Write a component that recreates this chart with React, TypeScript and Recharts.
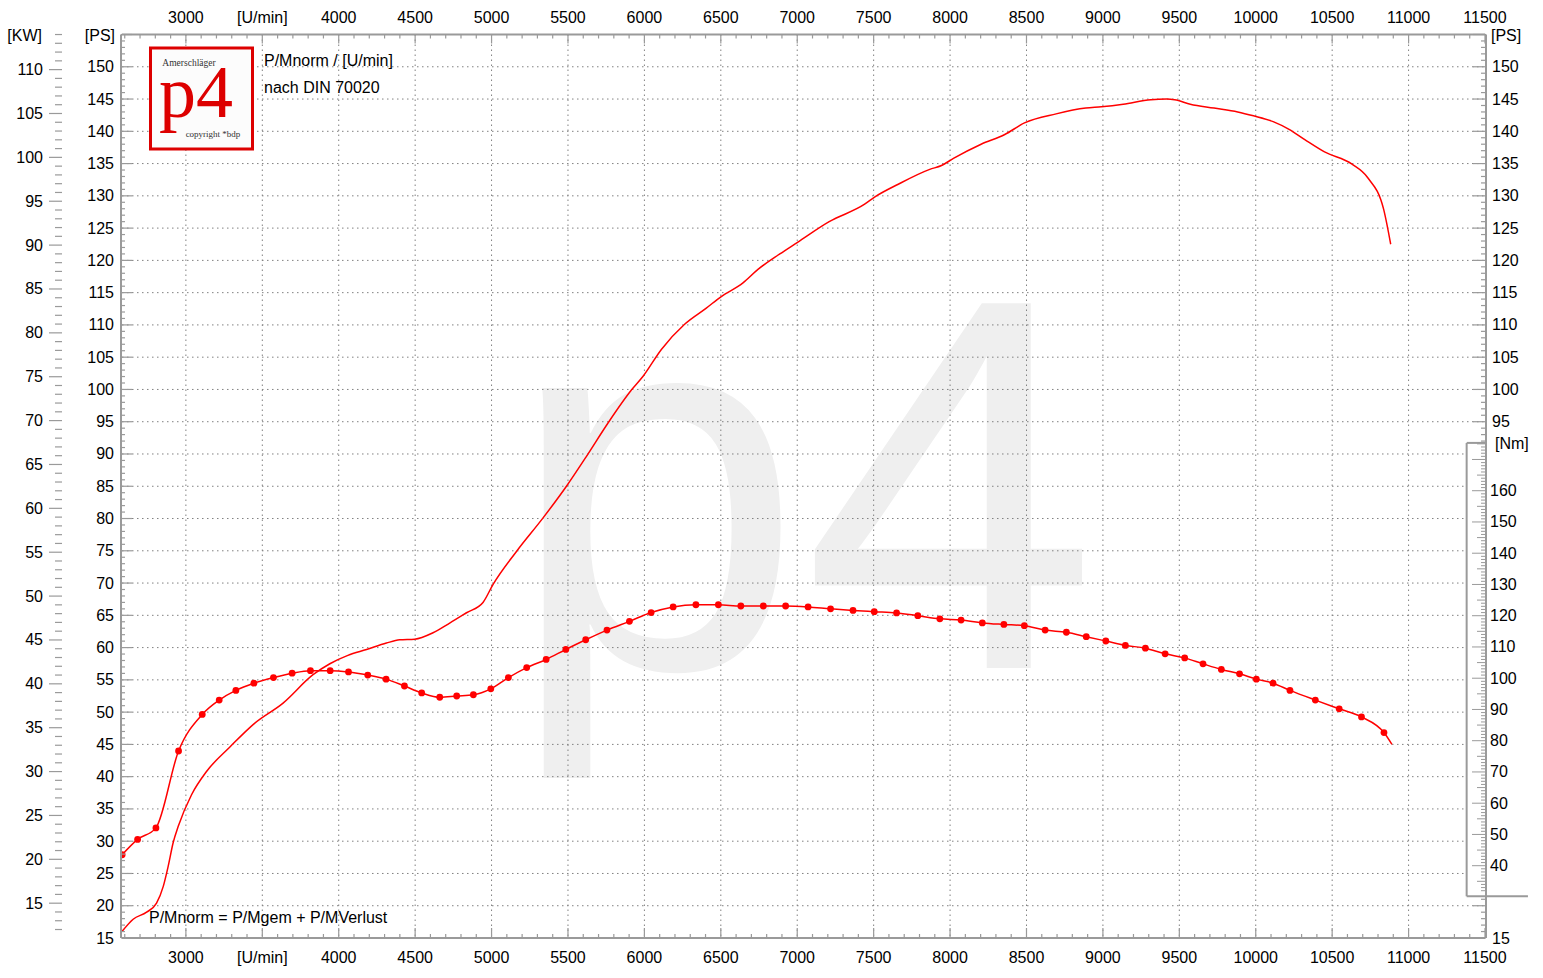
import React from 'react';
import {
  LineChart,
  Line,
  XAxis,
  YAxis,
  CartesianGrid,
  ReferenceArea,
  ReferenceLine,
} from 'recharts';

// Leistung P/Mnorm [PS] über Drehzahl [U/min]
const powerRpm = [
  2582, 2655, 2743, 2808, 2852, 2884, 2917, 2950, 3037, 3135, 3288, 3451, 3636, 3832, 3942, 4060,
  4182, 4312, 4399, 4497, 4617, 4726, 4836, 4944, 5010, 5163, 5337, 5490, 5620, 5762, 5915, 5990,
  6111, 6263, 6405, 6503, 6645, 6743, 6886, 7002, 7209, 7441, 7506, 7661, 7867, 7944, 8022, 8203,
  8358, 8487, 8694, 8888, 8990, 9133, 9314, 9417, 9469, 9572, 9727, 9882, 9985, 10114, 10218,
  10321, 10450, 10630, 10733, 10837, 10883,
];
const powerPs = [
  16.0, 17.9, 19.0, 20.4, 23.0, 26.1, 29.8, 32.3, 37.2, 40.8, 44.6, 48.3, 51.4, 55.8, 57.5, 58.8,
  59.7, 60.7, 61.2, 61.3, 62.3, 63.8, 65.4, 67.0, 69.8, 74.9, 80.1, 85.0, 89.6, 94.8, 99.9, 102.0,
  106.2, 110.1, 112.6, 114.4, 116.5, 118.6, 121.0, 122.8, 126.0, 128.7, 129.8, 131.8, 134.1, 134.7,
  135.8, 138.0, 139.5, 141.3, 142.7, 143.6, 143.8, 144.2, 144.9, 145.0, 144.9, 144.2, 143.6, 143.0,
  142.4, 141.5, 140.3, 138.7, 136.8, 134.9, 132.8, 127.9, 122.5,
];

// Drehmoment [Nm] über Drehzahl [U/min] (letzter Punkt ohne Messpunkt)
const torqueRpm = [
  2583, 2684, 2804, 2952, 3107, 3218, 3327, 3445, 3573, 3695, 3815, 3944, 4064, 4190, 4310, 4430,
  4543, 4661, 4772, 4881, 4995, 5110, 5230, 5357, 5486, 5616, 5755, 5902, 6044, 6188, 6337, 6484,
  6631, 6778, 6924, 7071, 7218, 7365, 7504, 7650, 7789, 7933, 8072, 8211, 8352, 8486, 8622, 8761,
  8891, 9019, 9147, 9278, 9407, 9535, 9655, 9775, 9894, 10004, 10113, 10224, 10390, 10546, 10692,
  10839, 10891,
];
const torqueNm = [
  43.5, 48.4, 52.1, 76.7, 88.4, 93.0, 96.1, 98.4, 100.2, 101.6, 102.4, 102.4, 102.0, 101.0, 99.7,
  97.5, 95.3, 93.9, 94.3, 94.7, 96.6, 100.2, 103.4, 106.0, 109.2, 112.3, 115.4, 118.2, 121.0, 122.8,
  123.5, 123.5, 123.1, 123.1, 123.1, 122.8, 122.2, 121.7, 121.3, 120.9, 120.0, 119.0, 118.6, 117.7,
  117.2, 116.8, 115.4, 114.7, 113.3, 111.9, 110.5, 109.6, 107.8, 106.5, 104.6, 102.8, 101.4, 99.7,
  98.4, 96.1, 93.0, 90.2, 87.6, 82.6, 78.8,
];

// Achsbeschriftungen
const rpmLabels = [3000, 3500, 4000, 4500, 5000, 5500, 6000, 6500, 7000, 7500, 8000, 8500, 9000, 9500, 10000, 10500, 11000, 11500];
const psLabels = [15, 20, 25, 30, 35, 40, 45, 50, 55, 60, 65, 70, 75, 80, 85, 90, 95, 100, 105, 110, 115, 120, 125, 130, 135, 140, 145, 150];
const psRightLabels = [15, 95, 100, 105, 110, 115, 120, 125, 130, 135, 140, 145, 150];
const kwLabels = [15, 20, 25, 30, 35, 40, 45, 50, 55, 60, 65, 70, 75, 80, 85, 90, 95, 100, 105, 110];
const nmLabels = [40, 50, 60, 70, 80, 90, 100, 110, 120, 130, 140, 150, 160];
const gridRpm = [3000, 3500, 4000, 4500, 5000, 5500, 6000, 6500, 7000, 7500, 8000, 8500, 9000, 9500, 10000, 10500, 11000];
const gridPs = psLabels.filter((v) => v > 15);

const range = (from: number, to: number, step = 1) => {
  const out: number[] = [];
  for (let v = from; v <= to; v += step) out.push(v);
  return out;
};
const rpmTicks = range(2600, 11500, 100);
const psTicks = range(15, 155);
const kwTicks = range(12, 114);
const nmTicks = range(32, 175);

const powerData = powerRpm.map((rpm, i) => ({ rpm, ps: powerPs[i] }));
const torqueData = torqueRpm.map((rpm, i) => ({ rpm, nm: torqueNm[i] }));

const RED = '#ff0000';
const AXIS = '#9a9a9a';
const FONT = 'Arial, "Liberation Sans", Helvetica, sans-serif';
const SERIF = '"Liberation Serif", "Times New Roman", serif';
const FS = 16;

const rpmText = (v: number) => (v === 3500 ? '[U/min]' : String(v));

const TopTick = ({ x, y, payload }: any) => {
  const v = payload.value;
  const major = v % 500 === 0;
  return (
    <g>
      <line x1={x} x2={x} y1={y} y2={y + (major ? 9 : 4)} stroke={AXIS} strokeWidth={1.2} />
      {rpmLabels.includes(v) && (
        <text x={x} y={y - 17} textAnchor="middle" dominantBaseline="central" fontSize={FS} fontFamily={FONT} fill="#000">
          {rpmText(v)}
        </text>
      )}
    </g>
  );
};

const BottomTick = ({ x, y, payload }: any) => {
  const v = payload.value;
  const major = v % 500 === 0;
  return (
    <g>
      <line x1={x} x2={x} y1={y} y2={y - (major ? 10 : 4)} stroke={AXIS} strokeWidth={1.2} />
      {rpmLabels.includes(v) && (
        <text x={x} y={y + 19.5} textAnchor="middle" dominantBaseline="central" fontSize={FS} fontFamily={FONT} fill="#000">
          {rpmText(v)}
        </text>
      )}
    </g>
  );
};

const PsLeftTick = ({ x, y, payload }: any) => {
  const v = payload.value;
  const major = v % 5 === 0;
  return (
    <g>
      <line x1={x} x2={x + (major ? 11 : 4)} y1={y} y2={y} stroke={AXIS} strokeWidth={1.2} />
      {psLabels.includes(v) && (
        <text x={x - 7} y={y} textAnchor="end" dominantBaseline="central" fontSize={FS} fontFamily={FONT} fill="#000">
          {v}
        </text>
      )}
    </g>
  );
};

// kW-Skala sitzt links außen, ohne Achslinie
const KwTick = ({ x, y, payload }: any) => {
  const v = payload.value;
  const major = v % 5 === 0;
  const end = x - 60;
  return (
    <g>
      <line x1={end - (major ? 13 : 7)} x2={end} y1={y} y2={y} stroke={AXIS} strokeWidth={1.2} />
      {kwLabels.includes(v) && (
        <text x={end - 19} y={y} textAnchor="end" dominantBaseline="central" fontSize={FS} fontFamily={FONT} fill="#000">
          {v}
        </text>
      )}
    </g>
  );
};

const PsRightTick = ({ x, y, payload }: any) => {
  const v = payload.value;
  if (v > 21 && v < 92) return <g />;
  const major = v % 5 === 0;
  return (
    <g>
      <line x1={x - (major ? 13 : 5)} x2={x} y1={y} y2={y} stroke={AXIS} strokeWidth={1.2} />
      {psRightLabels.includes(v) && (
        <text x={x + 6} y={y} textAnchor="start" dominantBaseline="central" fontSize={FS} fontFamily={FONT} fill="#000">
          {v}
        </text>
      )}
    </g>
  );
};

const NmTick = ({ x, y, payload }: any) => {
  const v = payload.value;
  const len = v % 10 === 0 ? 13 : v % 5 === 0 ? 8 : 4;
  return (
    <g>
      <line x1={x - len} x2={x} y1={y} y2={y} stroke={AXIS} strokeWidth={1} />
      {nmLabels.includes(v) && (
        <text x={x + 5} y={y} textAnchor="start" dominantBaseline="central" fontSize={FS} fontFamily={FONT} fill="#000">
          {v}
        </text>
      )}
    </g>
  );
};

const TorqueDot = (props: any) => {
  const { cx, cy, index } = props;
  if (index === torqueData.length - 1 || cx == null || cy == null) return <g key={`t${index}`} />;
  return <circle key={`t${index}`} cx={cx} cy={cy} r={3.4} fill={RED} stroke="none" />;
};

const Watermark = () => (
  <svg width={1543} height={978} style={{ position: 'absolute', left: 0, top: 0 }}>
    <text x={508} y={668} fontSize={530} fontFamily={FONT} fill="#efefef">
      p4
    </text>
  </svg>
);

const Overlay = () => (
  <svg width={1543} height={978} style={{ position: 'absolute', left: 0, top: 0, pointerEvents: 'none' }}>
    {/* Logo */}
    <rect x={150.5} y={48} width={102} height={101} fill="#fcfcfc" stroke="#dd0000" strokeWidth={3} />
    <text x={189} y={66} textAnchor="middle" fontSize={9.5} fontFamily={SERIF} fill="#333">
      Amerschläger
    </text>
    <text x={159} y={117} fontSize={74} fontFamily={SERIF} fill="#dd0000">
      p4
    </text>
    <text x={213} y={137} textAnchor="middle" fontSize={9} fontFamily={SERIF} fill="#333">
      copyright *bdp
    </text>

    <g fontFamily={FONT} fontSize={FS} fill="#000" dominantBaseline="central">
      <text x={264} y={60}>P/Mnorm / [U/min]</text>
      <text x={264} y={87}>nach DIN 70020</text>
      <text x={149} y={917}>P/Mnorm = P/Mgem + P/MVerlust</text>
      <text x={42} y={35} textAnchor="end">[KW]</text>
      <text x={115} y={35} textAnchor="end">[PS]</text>
      <text x={1491} y={35}>[PS]</text>
      <text x={1495} y={443}>[Nm]</text>
    </g>
  </svg>
);

export default function App() {
  return (
    <div style={{ position: 'absolute', left: 0, top: 0, width: 1543, height: 978, background: '#fff' }}>
      <Watermark />
      <div style={{ position: 'absolute', left: 0, top: 0 }}>
        <LineChart width={1543} height={978} margin={{ top: 0, right: 56, bottom: 0, left: 120 }}>
          <CartesianGrid
            xAxisId="bottom"
            yAxisId="ps"
            horizontalValues={gridPs}
            verticalValues={gridRpm}
            stroke="#808080"
            strokeDasharray="1.5 3.5"
          />
          {/* Nm-Skala: weißes Feld über dem Raster */}
          <ReferenceArea xAxisId="bottom" yAxisId="nm" x1={11380} x2={11500} y1={30.2} y2={175.3} fill="#fff" fillOpacity={1} stroke="none" />
          <ReferenceLine xAxisId="bottom" yAxisId="nm" segment={[{ x: 11380, y: 30.2 }, { x: 11380, y: 175.3 }]} stroke={AXIS} strokeWidth={2} ifOverflow="visible" />
          <ReferenceLine xAxisId="bottom" yAxisId="nm" segment={[{ x: 11380, y: 175.3 }, { x: 11508, y: 175.3 }]} stroke={AXIS} strokeWidth={2} ifOverflow="visible" />
          <ReferenceLine xAxisId="bottom" yAxisId="nm" segment={[{ x: 11380, y: 30.2 }, { x: 11781, y: 30.2 }]} stroke={AXIS} strokeWidth={2} ifOverflow="visible" />

          <Line
            xAxisId="bottom"
            yAxisId="ps"
            data={powerData}
            dataKey="ps"
            type="monotone"
            stroke={RED}
            strokeWidth={1.5}
            dot={false}
            activeDot={false}
            isAnimationActive={false}
          />
          <Line
            xAxisId="bottom"
            yAxisId="nm"
            data={torqueData}
            dataKey="nm"
            type="monotone"
            stroke={RED}
            strokeWidth={1.5}
            dot={TorqueDot}
            activeDot={false}
            isAnimationActive={false}
          />

          <XAxis
            xAxisId="bottom"
            orientation="bottom"
            type="number"
            dataKey="rpm"
            domain={[2582, 11500]}
            allowDataOverflow
            ticks={rpmTicks}
            interval={0}
            height={40}
            tickSize={0}
            tickMargin={0}
            tickLine={false}
            tick={BottomTick}
            axisLine={{ stroke: AXIS, strokeWidth: 2 }}
          />
          <XAxis
            xAxisId="top"
            orientation="top"
            type="number"
            dataKey="rpm"
            domain={[2582, 11500]}
            allowDataOverflow
            ticks={rpmTicks}
            interval={0}
            height={34.5}
            tickSize={0}
            tickMargin={0}
            tickLine={false}
            tick={TopTick}
            axisLine={{ stroke: AXIS, strokeWidth: 2 }}
          />
          <YAxis
            yAxisId="ps"
            orientation="left"
            type="number"
            domain={[15, 155]}
            allowDataOverflow
            ticks={psTicks}
            interval={0}
            width={1}
            tickSize={0}
            tickMargin={0}
            tickLine={false}
            tick={PsLeftTick}
            axisLine={{ stroke: AXIS, strokeWidth: 2 }}
          />
          <YAxis
            yAxisId="kw"
            orientation="left"
            type="number"
            domain={[15 * 0.7355, 155 * 0.7355]}
            allowDataOverflow
            ticks={kwTicks}
            interval={0}
            width={1}
            tickSize={0}
            tickMargin={0}
            tickLine={false}
            tick={KwTick}
            axisLine={false}
          />
          <YAxis
            yAxisId="psR"
            orientation="right"
            type="number"
            domain={[15, 155]}
            allowDataOverflow
            ticks={psTicks}
            interval={0}
            width={1}
            tickSize={0}
            tickMargin={0}
            tickLine={false}
            tick={PsRightTick}
            axisLine={{ stroke: AXIS, strokeWidth: 2 }}
          />
          <YAxis
            yAxisId="nm"
            orientation="right"
            type="number"
            domain={[16.86, 306]}
            allowDataOverflow
            ticks={nmTicks}
            interval={0}
            width={1}
            tickSize={0}
            tickMargin={0}
            tickLine={false}
            tick={NmTick}
            axisLine={false}
          />
        </LineChart>
      </div>
      <Overlay />
    </div>
  );
}
